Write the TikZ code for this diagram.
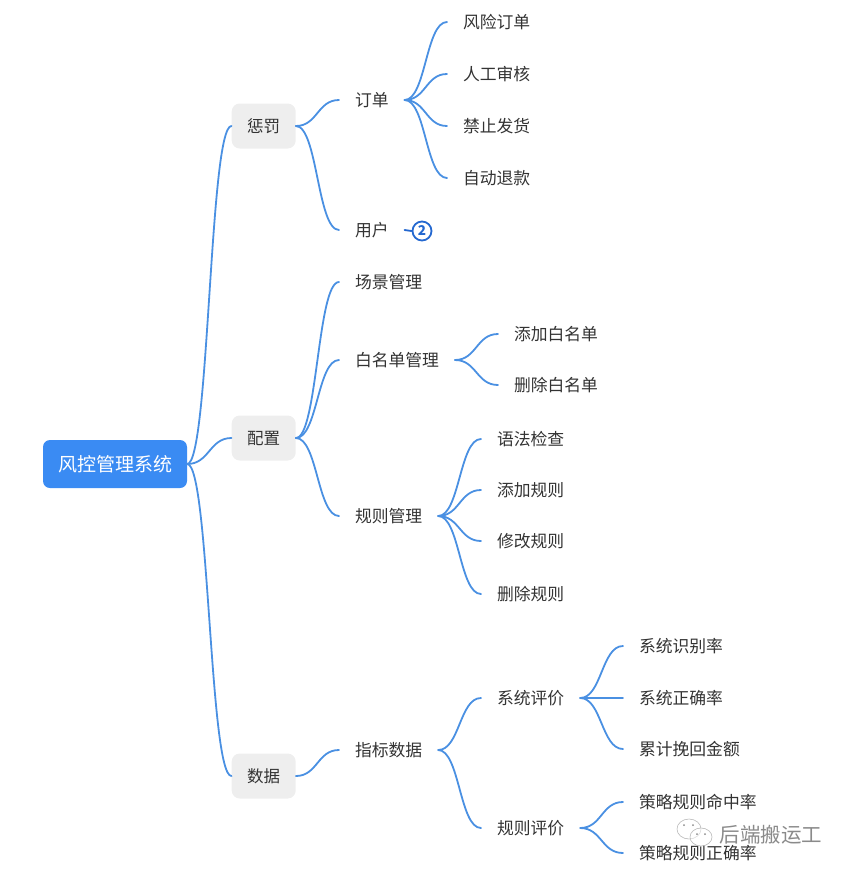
\documentclass[tikz,border=0pt]{standalone}
\usepackage{fontspec}
\setmainfont{Noto Sans CJK SC}
\usetikzlibrary{calc}
\definecolor{linkblue}{HTML}{4A90E2}
\definecolor{rootblue}{HTML}{3A8BF3}
\definecolor{boxgray}{HTML}{EEEEEE}
\definecolor{textgray}{HTML}{333333}
\definecolor{badgeblue}{HTML}{2468D0}
\definecolor{markgray}{HTML}{8A8A8A}

\begin{document}
\begin{tikzpicture}[x=1pt, y=-1pt,
    link/.style={draw=linkblue, line width=1.8pt, line cap=round},
    rootnode/.style={fill=rootblue, text=white, rounded corners=7pt, minimum width=144pt, minimum height=48pt, inner sep=0pt, font=\fontsize{19}{19}\selectfont},
    boxnode/.style={fill=boxgray, text=textgray, rounded corners=8pt, minimum width=64pt, minimum height=45pt, inner sep=0pt, text height=14pt, text depth=2pt, font=\fontsize{16.5}{17}\selectfont},
    leaf/.style={anchor=west, text=textgray, inner xsep=15.8pt, inner ysep=0pt, text height=14pt, text depth=1pt, font=\fontsize{16.8}{17}\selectfont}]
  \useasboundingbox (0,0) rectangle (850,873);
  % root and first level
  \node[rootnode] (root) at (115,464) {风控管理系统};
  \node[boxnode] (punish) at (263.7,126) {惩罚};
  \node[boxnode] (config) at (263.7,438) {配置};
  \node[boxnode] (stats) at (263.7,776) {数据};
  % punish
  \node[leaf] (order) at (339,100) {订单};
  \node[leaf] (user) at (339,230) {用户};
  \node[leaf] (risk) at (447,22) {风险订单};
  \node[leaf] (review) at (447,74) {人工审核};
  \node[leaf] (noship) at (447,126) {禁止发货};
  \node[leaf] (refund) at (447,178) {自动退款};
  \node[circle, draw=badgeblue, line width=1.8pt, text=badgeblue, inner sep=0pt, minimum size=19pt, font=\fontsize{13.5}{14}\bfseries] (badge) at (422,231) {2};
  % config
  \node[leaf] (scene) at (339,282) {场景管理};
  \node[leaf] (white) at (339,360) {白名单管理};
  \node[leaf] (rules) at (339,516) {规则管理};
  \node[leaf] (addwhite) at (498,334) {添加白名单};
  \node[leaf] (delwhite) at (498,385) {删除白名单};
  \node[leaf] (syntax) at (481,439) {语法检查};
  \node[leaf] (addrule) at (481,490) {添加规则};
  \node[leaf] (modrule) at (481,541) {修改规则};
  \node[leaf] (delrule) at (481,594) {删除规则};
  % stats
  \node[leaf] (metric) at (339,750) {指标数据};
  \node[leaf] (syseval) at (481,698) {系统评价};
  \node[leaf] (ruleeval) at (481,828) {规则评价};
  \node[leaf] (sysrec) at (623,646) {系统识别率};
  \node[leaf] (sysacc) at (623,698) {系统正确率};
  \node[leaf] (saved) at (623,749) {累计挽回金额};
  \node[leaf] (rulehit) at (623,802) {策略规则命中率};
  \node[leaf] (ruleacc) at (623,853) {策略规则正确率};
  % connectors
  \foreach \src/\dst in {root/punish, root/config, root/stats,
      punish/order, punish/user, order/risk, order/review, order/noship, order/refund,
      config/scene, config/white, config/rules, white/addwhite, white/delwhite,
      rules/syntax, rules/addrule, rules/modrule, rules/delrule,
      stats/metric, metric/syseval, metric/ruleeval,
      syseval/sysrec, syseval/sysacc, syseval/saved, ruleeval/rulehit, ruleeval/ruleacc}
    \draw[link] (\src.east) .. controls ($(\src.east)!0.5!(\dst.west|-\src.east)$) and ($(\dst.west)!0.5!(\src.east|-\dst.west)$) .. (\dst.west);
  \draw[link, draw=badgeblue] (user.east) -- (badge.west);
  % watermark
  \draw[markgray!60, line width=0.6pt, fill=white, fill opacity=0.4] (689,829) ellipse (12pt and 10pt);
  \draw[markgray!60, line width=0.6pt, fill=white, fill opacity=0.5] (701,837) ellipse (11pt and 9pt);
  \fill[markgray] (684,825) circle (1pt) (693,825) circle (1pt) (697,834) circle (1pt) (705,834) circle (1pt);
  \node[text=markgray, inner sep=0pt, font=\fontsize{20.5}{21}\selectfont] (mark) at (771,835) {后端搬运工};
\end{tikzpicture}
\end{document}
